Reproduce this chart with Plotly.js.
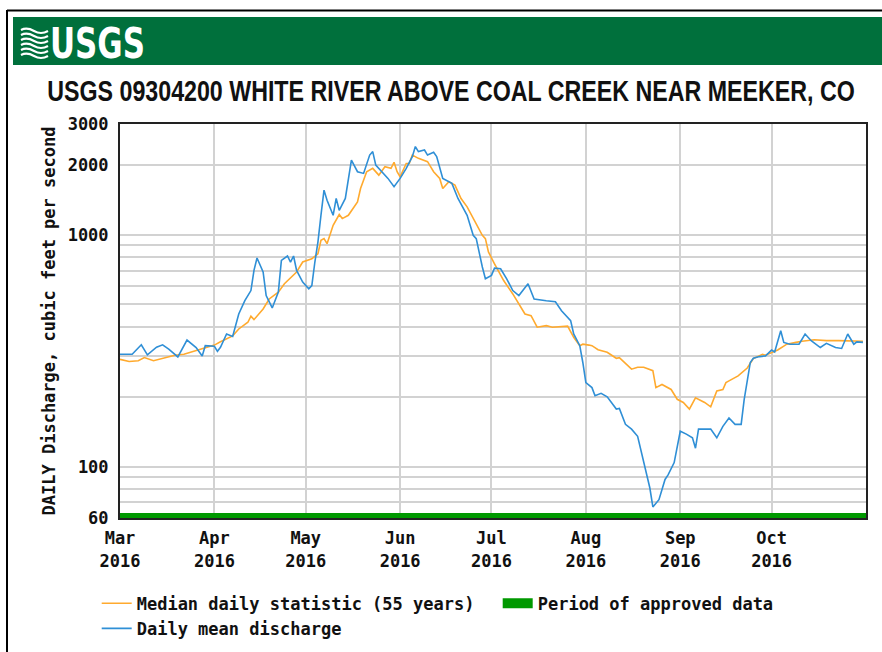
<!DOCTYPE html>
<html>
<head>
<meta charset="utf-8">
<script src="https://cdn.plot.ly/plotly-3.0.1.min.js"></script>
<style>
html,body{margin:0;padding:0;background:#fff;}
#wrap{position:relative;width:882px;height:652px;overflow:hidden;background:#fff;}
#chart{position:absolute;left:0;top:0;width:882px;height:652px;}
#overlay{position:absolute;left:0;top:0;width:882px;height:652px;pointer-events:none;}
</style>
</head>
<body>
<div id="wrap">
  <div id="chart"></div>
  <svg id="overlay" width="882" height="652" xmlns="http://www.w3.org/2000/svg">
    <line x1="7" y1="10.5" x2="882" y2="10.5" stroke="#000" stroke-width="2"/>
    <line x1="7" y1="10" x2="7" y2="652" stroke="#000" stroke-width="2"/>
    <rect x="13" y="17" width="869" height="48" fill="#00703C"/>
    <g fill="none" stroke="#fff" stroke-width="2.2">
      <path d="M21,30 q6,-3 13,1 t14,0"/>
      <path d="M21,35 q6,-3 13,1 t14,0"/>
      <path d="M21,40 q6,-3 13,1 t14,0"/>
      <path d="M21,45 q6,-3 13,1 t14,0"/>
      <path d="M21,50 q6,-3 13,1 t14,0"/>
      <path d="M21,55 q6,-3 13,1 t14,0"/>
    </g>
    <text x="50" y="58" fill="#fff" font-family="'Liberation Sans Narrow','DejaVu Sans Condensed',sans-serif" font-weight="bold" font-size="43" textLength="95" lengthAdjust="spacingAndGlyphs">USGS</text>
  </svg>
</div>
<script>
// ---- data ----
const medianDates = [
 '2016-03-01','2016-03-04','2016-03-07','2016-03-09','2016-03-12','2016-03-16','2016-03-19','2016-03-22','2016-03-26','2016-03-29',
 '2016-04-01','2016-04-03','2016-04-07','2016-04-09','2016-04-12','2016-04-13','2016-04-14','2016-04-17','2016-04-19','2016-04-22','2016-04-24','2016-04-28','2016-04-30',
 '2016-05-03','2016-05-05','2016-05-06','2016-05-07','2016-05-08','2016-05-10','2016-05-12','2016-05-13','2016-05-15','2016-05-18','2016-05-19','2016-05-21','2016-05-23','2016-05-25','2016-05-27','2016-05-29','2016-05-30','2016-05-31',
 '2016-06-01','2016-06-03','2016-06-04','2016-06-05','2016-06-07','2016-06-10','2016-06-12','2016-06-14','2016-06-15','2016-06-17','2016-06-19','2016-06-21','2016-06-23','2016-06-25','2016-06-28','2016-06-29','2016-06-30',
 '2016-07-02','2016-07-05','2016-07-08','2016-07-12','2016-07-14','2016-07-16','2016-07-19','2016-07-21','2016-07-26','2016-07-28','2016-07-30','2016-07-31',
 '2016-08-02','2016-08-03','2016-08-05','2016-08-06','2016-08-08','2016-08-11','2016-08-12','2016-08-16','2016-08-18','2016-08-20','2016-08-22','2016-08-23','2016-08-24','2016-08-26','2016-08-29','2016-08-31',
 '2016-09-02','2016-09-04','2016-09-06','2016-09-09','2016-09-11','2016-09-13','2016-09-15','2016-09-16','2016-09-17','2016-09-20','2016-09-23','2016-09-25','2016-09-28','2016-09-29',
 '2016-10-03','2016-10-06','2016-10-09','2016-10-11','2016-10-15','2016-10-19','2016-10-23','2016-10-28','2016-10-31'
];
const medianValues = [
 290,284,286,295,286,295,302,305,316,326,
 334,345,366,392,419,445,430,478,528,565,614,690,762,
 787,827,945,961,914,1097,1221,1173,1212,1385,1582,1868,1931,1806,1963,1931,2050,1868,
 1777,2028,2028,2204,2133,2064,1868,1748,1582,1690,1635,1432,1318,1173,993,961,842,
 749,634,555,455,447,399,405,399,403,361,332,337,
 334,332,319,316,311,293,295,263,268,268,263,259,219,226,215,195,
 189,177,198,189,181,212,215,230,234,246,266,292,305,302,
 318,337,343,347,352,349,349,349,347
];
const dailyDates = [
 '2016-03-01','2016-03-05','2016-03-08','2016-03-10','2016-03-13','2016-03-15','2016-03-17','2016-03-20','2016-03-23','2016-03-26','2016-03-28','2016-03-29',
 '2016-04-01','2016-04-02','2016-04-03','2016-04-05','2016-04-07','2016-04-08','2016-04-09','2016-04-11','2016-04-13','2016-04-14','2016-04-15','2016-04-17','2016-04-18','2016-04-20','2016-04-22','2016-04-23','2016-04-25','2016-04-26','2016-04-27','2016-04-28','2016-04-30',
 '2016-05-02','2016-05-03','2016-05-04','2016-05-05','2016-05-06','2016-05-07','2016-05-08','2016-05-10','2016-05-11','2016-05-12','2016-05-14','2016-05-16','2016-05-18','2016-05-20','2016-05-22','2016-05-23','2016-05-24','2016-05-25','2016-05-28','2016-05-30',
 '2016-06-01','2016-06-03','2016-06-05','2016-06-06','2016-06-07','2016-06-09','2016-06-10','2016-06-12','2016-06-13','2016-06-15','2016-06-18','2016-06-20','2016-06-23','2016-06-25','2016-06-26','2016-06-28','2016-06-29',
 '2016-07-01','2016-07-02','2016-07-04','2016-07-06','2016-07-08','2016-07-10','2016-07-13','2016-07-15','2016-07-19','2016-07-22','2016-07-24','2016-07-27','2016-07-28','2016-07-30','2016-07-31',
 '2016-08-01','2016-08-03','2016-08-04','2016-08-06','2016-08-08','2016-08-11','2016-08-12','2016-08-14','2016-08-16','2016-08-18','2016-08-20','2016-08-22','2016-08-23','2016-08-25','2016-08-27','2016-08-28','2016-08-30',
 '2016-09-01','2016-09-03','2016-09-05','2016-09-06','2016-09-07','2016-09-11','2016-09-13','2016-09-15','2016-09-17','2016-09-19','2016-09-21','2016-09-22','2016-09-24','2016-09-25','2016-09-27','2016-09-29',
 '2016-10-01','2016-10-02','2016-10-03','2016-10-04','2016-10-05','2016-10-07','2016-10-10','2016-10-12','2016-10-14','2016-10-17','2016-10-19','2016-10-22','2016-10-24','2016-10-26','2016-10-28','2016-10-29','2016-10-31'
];
const dailyValues = [
 305,305,335,303,327,335,321,297,351,326,300,332,
 330,314,327,373,364,405,455,519,574,701,793,690,546,483,565,774,809,762,809,701,624,
 584,603,762,929,1212,1556,1408,1212,1432,1274,1432,2097,1868,1837,2204,2280,1995,1931,1748,1609,
 1748,1931,2170,2397,2280,2317,2204,2265,2170,1748,1663,1432,1212,993,961,725,645,
 667,717,713,645,574,546,614,528,519,514,470,426,373,332,281,
 230,219,202,207,200,177,178,152,145,135,104,81,67,72,88,92,104,
 142,138,133,120,145,145,133,149,162,152,152,195,281,293,298,300,
 318,312,349,385,343,337,337,373,349,326,340,326,323,373,337,345,343
];
const approvedDates = ['2016-03-01','2016-11-01'];
const approvedValues = [60, 60];

const monthTicks = ['2016-03-01','2016-04-01','2016-05-01','2016-06-01','2016-07-01','2016-08-01','2016-09-01','2016-10-01'];
const monthLabels = ['Mar<br>2016','Apr<br>2016','May<br>2016','Jun<br>2016','Jul<br>2016','Aug<br>2016','Sep<br>2016','Oct<br>2016'];
const yTickVals = [60,70,80,90,100,200,300,400,500,600,700,800,900,1000,2000,3000];
const yTickText = ['60','','','','100','','','','','','','','','1000','2000','3000'];

const mono = "'DejaVu Sans Mono', 'Liberation Mono', monospace";
const monoFont = {family: mono, size: 17, weight: 'bold', color: '#111'};

const traces = [
  {type:'scatter', mode:'lines', name:'Median daily statistic (55 years)', x: medianDates, y: medianValues,
   line:{color:'#FFAA2E', width:1.6}, legendrank:1, hoverinfo:'x+y'},
  {type:'scatter', mode:'lines', name:'Daily mean discharge', x: dailyDates, y: dailyValues,
   line:{color:'#2F8FD6', width:1.6}, legendrank:3, hoverinfo:'x+y'},
  {type:'scatter', mode:'lines', name:'Period of approved data', x: approvedDates, y: approvedValues,
   line:{color:'#009900', width:10}, legendrank:2, hoverinfo:'skip'}
];

const layout = {
  width: 882, height: 652,
  margin: {l:120, r:16, t:124, b:134, pad:0, autoexpand:false},
  paper_bgcolor:'rgba(0,0,0,0)', plot_bgcolor:'#fff',
  showlegend: true,
  title: {
    text: 'USGS 09304200 WHITE RIVER ABOVE COAL CREEK NEAR MEEKER, CO',
    font: {family: "'Liberation Sans Narrow','Liberation Sans','DejaVu Sans Condensed',sans-serif", size: 30, weight:'bold', color:'#111'},
    xref:'container', yref:'container', x: 451/882, xanchor:'center', y: 1 - 91/652, yanchor:'middle'
  },
  xaxis: {
    type:'date', range:['2016-03-01','2016-11-01'], automargin:false,
    tickmode:'array', tickvals: monthTicks, ticktext: monthLabels,
    ticks:'', showgrid:true, gridcolor:'#d2d2d2', gridwidth:2,
    showline:true, linecolor:'#222', linewidth:2, mirror:true,
    tickfont: monoFont, ticklabelstandoff: 4, zeroline:false, fixedrange:true
  },
  yaxis: {
    type:'log', range:[Math.log10(60), Math.log10(3000)], automargin:false,
    tickmode:'array', tickvals: yTickVals, ticktext: yTickText,
    ticks:'', showgrid:true, gridcolor:'#d2d2d2', gridwidth:2,
    showline:true, linecolor:'#222', linewidth:2, mirror:true,
    tickfont: monoFont, ticklabelstandoff: 6, zeroline:false, fixedrange:true,
    title: {text:'DAILY Discharge, cubic feet per second', font: monoFont, standoff: 8}
  },
  legend: {
    orientation:'h', x: (96.7-120)/746, xanchor:'left', y: -0.1718, yanchor:'top',
    entrywidth: 356, entrywidthmode:'pixels',
    font: monoFont, bgcolor:'rgba(0,0,0,0)', borderwidth:0, traceorder:'normal'
  }
};

Plotly.newPlot('chart', traces, layout, {displayModeBar:false, staticPlot:true}).then(function(gd){
  // condense the headline horizontally to the reference's narrow-font width
  const t = gd.querySelector('.gtitle');
  if (t && t.getComputedTextLength) {
    const w = t.getComputedTextLength();
    const target = 808;
    if (w > target) {
      const cx = parseFloat(t.getAttribute('x')) || 451;
      const s = target / w;
      t.setAttribute('transform', 'translate(' + cx + ',0) scale(' + s + ',1) translate(' + (-cx) + ',0)');
    }
  }
});
</script>
</body>
</html>
